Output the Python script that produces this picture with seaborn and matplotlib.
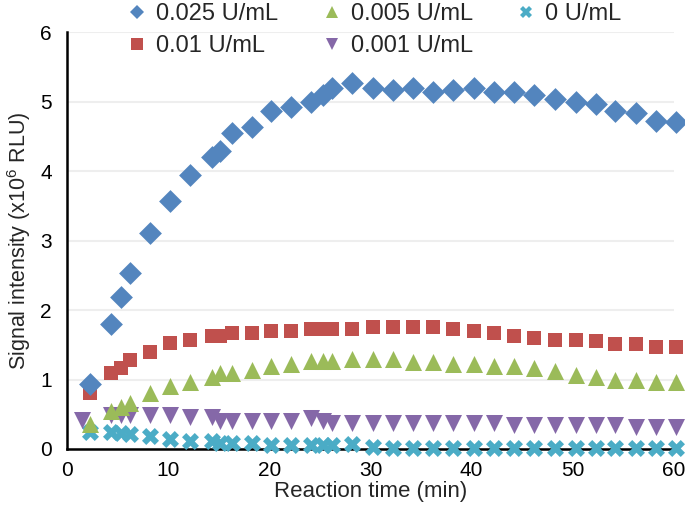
import pandas as pd
import seaborn as sns
import matplotlib.pyplot as plt
from matplotlib.lines import Line2D

# reaction time (min)
times = [2.3, 4.3, 5.3, 6.2, 8.2, 10.2, 12.2, 14.3, 15.1, 16.3, 18.3, 20.2, 22.1,
         24.1, 25.3, 26.2, 28.2, 30.2, 32.2, 34.2, 36.2, 38.2, 40.2, 42.2, 44.2,
         46.2, 48.2, 50.3, 52.3, 54.2, 56.2, 58.2, 60.2]
times_001 = [1.5] + times[1:]

# signal intensity (x10^6 RLU)
sig_025 = [0.93, 1.80, 2.19, 2.53, 3.11, 3.57, 3.94, 4.20, 4.29, 4.54, 4.64, 4.86, 4.92,
           5.00, 5.10, 5.19, 5.26, 5.19, 5.16, 5.20, 5.13, 5.16, 5.20, 5.13, 5.13,
           5.09, 5.03, 5.00, 4.96, 4.87, 4.84, 4.72, 4.70]
sig_01 = [0.80, 1.10, 1.17, 1.28, 1.39, 1.52, 1.57, 1.62, 1.62, 1.67, 1.67, 1.70, 1.70,
          1.73, 1.73, 1.73, 1.73, 1.76, 1.76, 1.76, 1.76, 1.73, 1.70, 1.67, 1.63,
          1.60, 1.57, 1.57, 1.55, 1.51, 1.51, 1.47, 1.47]
sig_005 = [0.36, 0.54, 0.60, 0.66, 0.80, 0.90, 0.96, 1.03, 1.09, 1.09, 1.13, 1.19, 1.23,
           1.26, 1.26, 1.26, 1.29, 1.29, 1.29, 1.25, 1.25, 1.23, 1.23, 1.19, 1.19,
           1.16, 1.12, 1.06, 1.03, 1.00, 1.00, 0.96, 0.96]
sig_001 = [0.42, 0.49, 0.49, 0.49, 0.49, 0.49, 0.46, 0.46, 0.41, 0.41, 0.41, 0.41, 0.41,
           0.44, 0.41, 0.38, 0.38, 0.37, 0.38, 0.38, 0.38, 0.38, 0.38, 0.38, 0.35,
           0.35, 0.35, 0.35, 0.35, 0.35, 0.32, 0.32, 0.32]
sig_0 = [0.25, 0.24, 0.23, 0.22, 0.19, 0.15, 0.12, 0.12, 0.09, 0.09, 0.09, 0.06, 0.06,
         0.06, 0.06, 0.06, 0.07, 0.03, 0.02, 0.02, 0.02, 0.02, 0.02, 0.02, 0.02,
         0.02, 0.02, 0.02, 0.02, 0.02, 0.02, 0.02, 0.02]

labels = ['0.025 U/mL', '0.01 U/mL', '0.005 U/mL', '0.001 U/mL', '0 U/mL']
colors = ['#5385BE', '#C0504D', '#9BBB59', '#8568A8', '#4BACC6']
markers = ['D', 's', '^', 'v', 'X']
sizes = [135, 105, 150, 150, 150]

series = [(times, sig_025), (times, sig_01), (times, sig_005), (times_001, sig_001), (times, sig_0)]
frames = []
for lab, (t, s) in zip(labels, series):
    frames.append(pd.DataFrame({'time': t, 'signal': s, 'conc': lab}))
df = pd.concat(frames, ignore_index=True)

sns.set_style('white')
plt.rcParams['font.family'] = ['Liberation Sans', 'DejaVu Sans']
plt.rcParams['mathtext.fontset'] = 'custom'
plt.rcParams['mathtext.rm'] = 'Liberation Sans'

fig = plt.figure(figsize=(6.85, 5.26), dpi=100)
ax = fig.add_axes([67 / 685, 1 - 449 / 526, (674 - 67) / 685, (449 - 32) / 526])

# draw lowest concentration first so higher ones sit on top
for i in reversed(range(len(labels))):
    sub = df[df['conc'] == labels[i]]
    sns.scatterplot(data=sub, x='time', y='signal', ax=ax, color=colors[i],
                    marker=markers[i], s=sizes[i], linewidth=0, legend=False,
                    clip_on=False, zorder=3 + (len(labels) - i))

ax.set_xlim(0, 60)
ax.set_ylim(0, 6)
ax.set_xticks(range(0, 61, 10))
ax.set_yticks(range(0, 7))
ax.yaxis.grid(True, color='#EEEEEE', linewidth=1.5)
ax.set_axisbelow(True)
for side in ['top', 'right']:
    ax.spines[side].set_visible(False)
for side in ['left', 'bottom']:
    ax.spines[side].set_color('black')
    ax.spines[side].set_linewidth(1.8)
    ax.spines[side].set_zorder(2.5)
ax.tick_params(direction='out', length=5, width=1.4, colors='black', labelsize=15)
ax.tick_params(axis='y', pad=6)
ax.tick_params(axis='x', pad=4)
ax.set_xlabel('Reaction time (min)', fontsize=16, labelpad=0)
ax.set_ylabel('Signal intensity (x10$^{6}$ RLU)', fontsize=15.5, labelpad=5)

# legend laid out in rows: 0.025, 0.005, 0 / 0.01, 0.001
handles = [Line2D([], [], linestyle='none', marker=m, color=c, markersize=8 if m != 'D' else 7,
                  markeredgewidth=0) for m, c in zip(markers, colors)]
fig.legend(handles, labels, loc='upper center', bbox_to_anchor=(0.545, 1.035), ncol=3,
           frameon=False, fontsize=17, handletextpad=0.3, columnspacing=1.76,
           labelspacing=0.45, handlelength=1.0)

fig.savefig('out.png', dpi=100)
